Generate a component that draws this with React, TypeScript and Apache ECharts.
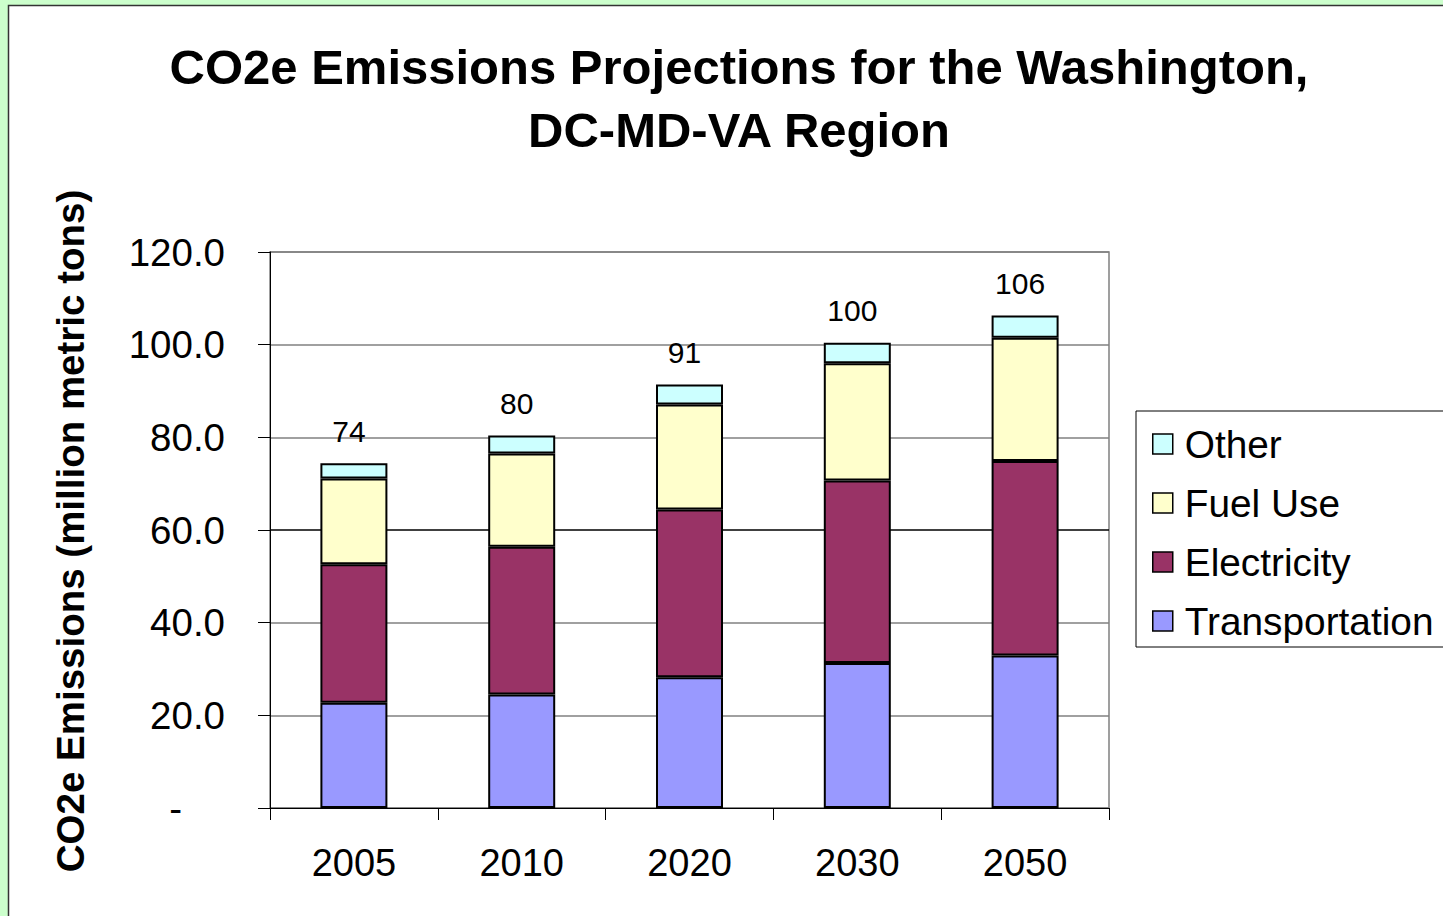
import React, { useEffect, useRef } from "react";
import * as echarts from "echarts";

const categories = ["2005", "2010", "2020", "2030", "2050"];
const transportation = [22.7, 24.5, 28.2, 31.3, 32.9];
const electricity = [29.9, 31.9, 36.2, 39.4, 42.0];
const fuelUse = [18.5, 20.1, 22.7, 25.3, 26.6];
const other = [3.3, 3.9, 4.3, 4.4, 4.8];
const totals = [74, 80, 91, 100, 106];
const yTicks = [0, 20, 40, 60, 80, 100, 120];

const FONT = "'Liberation Sans', Arial, Helvetica, sans-serif";

export default function App() {
  const ref = useRef<HTMLDivElement>(null);
  useEffect(() => {
    if (!ref.current) return;
    const chart = echarts.init(ref.current, null, { renderer: "svg" });
    const barBase = {
      type: "bar",
      stack: "total",
      barWidth: 67,
      itemStyle: { borderColor: "#000", borderWidth: 2 },
    };
    chart.setOption({
      animation: false,
      textStyle: { fontFamily: FONT },
      title: {
        text: "CO2e Emissions Projections for the Washington,\nDC-MD-VA Region",
        left: 739,
        top: 35,
        padding: 0,
        textAlign: "center",
        textStyle: { fontSize: 49, fontWeight: "bold", color: "#000", lineHeight: 63, fontFamily: FONT },
      },
      graphic: [
        { type: "rect", z: -10, shape: { x: 0, y: 0, width: 1443, height: 916 }, style: { fill: "#ccffcc" } },
        {
          type: "rect",
          z: -9,
          shape: { x: 8.5, y: 5.5, width: 1500, height: 1000 },
          style: { fill: "#fff", stroke: "#333", lineWidth: 1.5 },
        },
        {
          type: "text",
          x: 70,
          y: 531,
          rotation: Math.PI / 2,
          style: {
            text: "CO2e Emissions (million metric tons)",
            font: `bold 38.5px ${FONT}`,
            fill: "#000",
            textAlign: "center",
            textVerticalAlign: "middle",
          },
        },
      ],
      legend: {
        orient: "vertical",
        left: 1136,
        top: 411,
        padding: [11, 30, 4, 16],
        backgroundColor: "#fff",
        borderColor: "#000",
        borderWidth: 1,
        itemWidth: 20,
        itemHeight: 20,
        itemGap: 15,
        icon: "rect",
        itemStyle: { borderColor: "#000", borderWidth: 1.5 },
        textStyle: { fontSize: 38.8, color: "#000", lineHeight: 44, padding: [0, 0, 0, 7], fontFamily: FONT },
        data: ["Other", "Fuel Use", "Electricity", "Transportation"],
      },
      grid: {
        left: 270,
        right: 334,
        top: 252,
        bottom: 108,
        show: true,
        borderColor: "#808080",
        borderWidth: 1.5,
        backgroundColor: "#fff",
      },
      xAxis: {
        type: "category",
        data: categories,
        axisLine: { lineStyle: { color: "#000", width: 1 } },
        axisTick: { show: true, length: 12, lineStyle: { color: "#000" } },
        axisLabel: { fontSize: 38, color: "#000", margin: 36, fontFamily: FONT },
      },
      yAxis: {
        type: "value",
        min: 0,
        max: 120,
        interval: 20,
        axisLine: { show: true, lineStyle: { color: "#000", width: 1 } },
        axisTick: { show: true, length: 12, lineStyle: { color: "#000" } },
        splitLine: {
          show: true,
          lineStyle: {
            color: yTicks.map((t) => (t === 60 ? "#000" : "#808080")),
            width: 1.5,
          },
        },
        axisLabel: {
          fontSize: 38.5,
          color: "#000",
          margin: 45,
          fontFamily: FONT,
          formatter: (v: number) => (v === 0 ? "{d|-}" : v.toFixed(1)),
          rich: { d: { fontSize: 38.5, color: "#000", padding: [0, 43, 0, 0], fontFamily: FONT } },
        },
      },
      series: [
        { ...barBase, name: "Transportation", data: transportation, itemStyle: { ...barBase.itemStyle, color: "#9999ff" } },
        { ...barBase, name: "Electricity", data: electricity, itemStyle: { ...barBase.itemStyle, color: "#993366" } },
        { ...barBase, name: "Fuel Use", data: fuelUse, itemStyle: { ...barBase.itemStyle, color: "#ffffcc" } },
        {
          ...barBase,
          name: "Other",
          data: other,
          itemStyle: { ...barBase.itemStyle, color: "#ccffff" },
          label: {
            show: true,
            position: "top",
            distance: 17,
            offset: [-5, 0],
            fontSize: 30,
            color: "#000",
            fontFamily: FONT,
            formatter: (p: any) => String(totals[p.dataIndex]),
          },
        },
      ],
    });
    return () => chart.dispose();
  }, []);
  return (
    <div style={{ position: "absolute", left: 0, top: 0, width: 1443, height: 916, overflow: "hidden" }}>
      <div ref={ref} style={{ width: 1443, height: 916 }} />
    </div>
  );
}
